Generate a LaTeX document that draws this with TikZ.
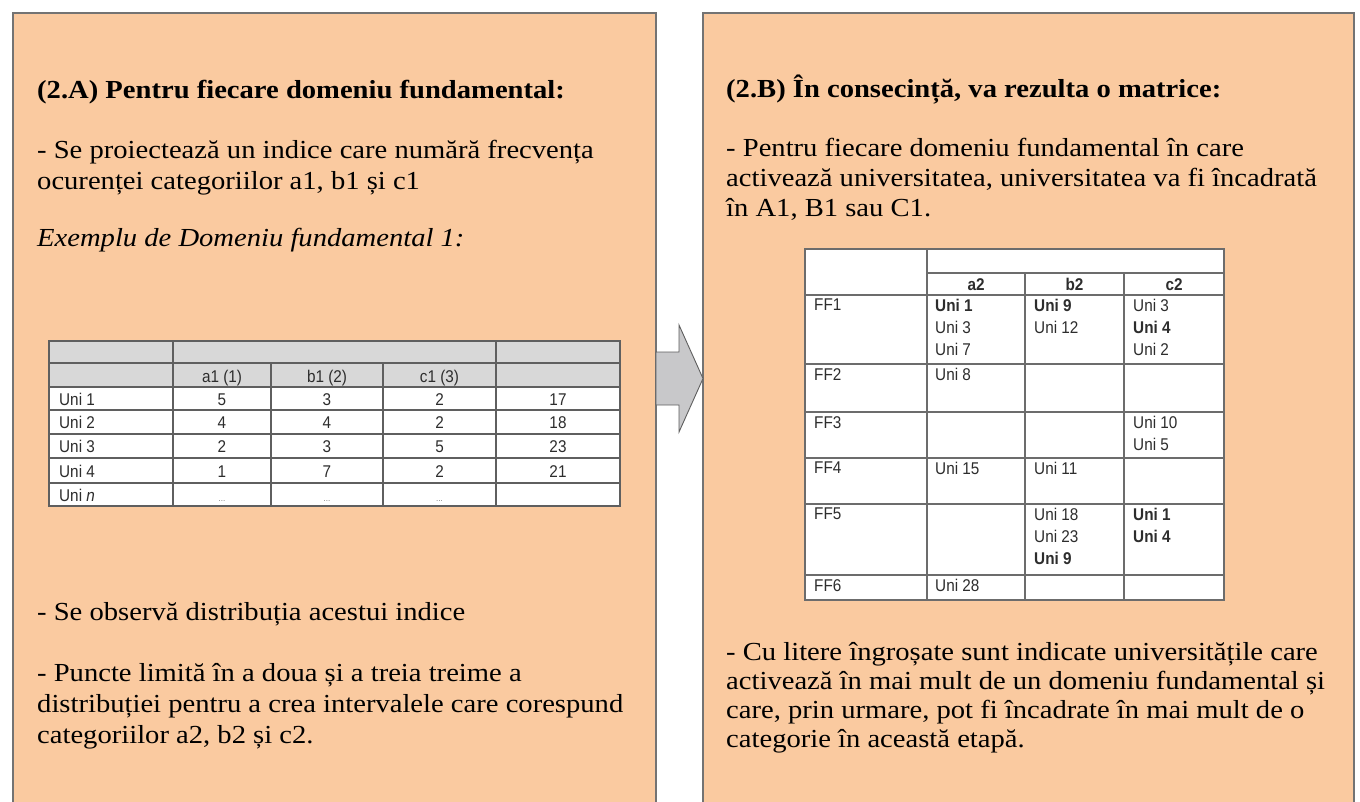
\documentclass[tikz,border=0pt]{standalone}
\usepackage{fontspec}
\setmainfont{Liberation Serif}[FakeStretch=1.10]
\newfontfamily\tabfont{Liberation Sans}[FakeStretch=0.9]
\definecolor{peach}{RGB}{250,202,160}
\definecolor{panelline}{RGB}{115,115,115}
\definecolor{gridline}{RGB}{95,95,95}
\definecolor{hdrgray}{RGB}{216,216,216}
\definecolor{arrowgray}{RGB}{200,200,202}
\definecolor{tabtext}{RGB}{45,45,45}
\begin{document}
\begin{tikzpicture}[x=1pt,y=-1pt,
  txt/.style={anchor=base west, inner sep=0, font=\fontsize{26}{30}\selectfont},
  ttl/.style={anchor=base west, inner sep=0, font=\fontsize{26}{30}\selectfont\bfseries},
  itl/.style={anchor=base west, inner sep=0, font=\fontsize{26}{30}\selectfont\itshape},
  panel/.style={fill=peach, draw=panelline, line width=1.4pt},
  grid/.style={draw=gridline, line width=1.1pt},
  cellc/.style={anchor=base, inner sep=0, text=tabtext, font=\tabfont\fontsize{17}{19}\selectfont},
  celll/.style={anchor=base west, inner sep=0, text=tabtext, font=\tabfont\fontsize{17}{19}\selectfont},
  unil/.style={anchor=north west, inner sep=0, align=left, text=tabtext, font=\tabfont\fontsize{17}{22}\selectfont},
  hdr/.style={anchor=base, inner sep=0, text=tabtext, font=\tabfont\bfseries\fontsize{17}{19}\selectfont},
  dots/.style={anchor=base, inner sep=0, text=gray, font=\tabfont\fontsize{9}{10}\selectfont}
]
\useasboundingbox (0,0) rectangle (1360,801);
\fill[white] (0,0) rectangle (1360,801);
\begin{scope}
\clip (0,0) rectangle (1360,801);
\draw[panel] (13,13) rectangle (656,830);
\draw[panel] (703,13) rectangle (1354,830);
\end{scope}

% arrow between the panels
\draw[fill=arrowgray, draw=gridline, line width=0.9pt]
  (656,352) -- (679,352) -- (679,325) -- (703,378.5) -- (679,432) -- (679,405) -- (656,405) -- cycle;

% ---------- left panel text ----------
\node[ttl] (lt) at (37,98) {(2.A) Pentru fiecare domeniu fundamental:};
\node[txt] (l1) at (37,158) {- Se proiectează un indice care numără frecvența};
\node[txt] (l2) at (37,189) {ocurenței categoriilor a1, b1 și c1};
\node[itl] (l3) at (37,246) {Exemplu de Domeniu fundamental 1:};
\node[txt] (l4) at (37,620) {- Se observă distribuția acestui indice};
\node[txt] (l5) at (37,681) {- Puncte limită în a doua și a treia treime a};
\node[txt] (l6) at (37,712) {distribuției pentru a crea intervalele care corespund};
\node[txt] (l7) at (37,743) {categoriilor a2, b2 și c2.};

% ---------- left table ----------
\fill[hdrgray] (49,341) rectangle (620,387);
\fill[white] (49,387) rectangle (620,506);
\draw[grid] (49,341) rectangle (620,506);
\foreach \yy in {363,387,410,434,458,483} \draw[grid] (49,\yy) -- (620,\yy);
\draw[grid] (173,341) -- (173,506);
\draw[grid] (496,341) -- (496,506);
\draw[grid] (271,363) -- (271,506);
\draw[grid] (383,363) -- (383,506);
\node[cellc] (ha) at (222,382) {a1 (1)};
\node[cellc] (hb) at (327,382) {b1 (2)};
\node[cellc] (hc) at (439.5,382) {c1 (3)};
\node[celll] (u1) at (59,405) {Uni 1};
\node[celll] (u2) at (59,428.5) {Uni 2};
\node[celll] (u3) at (59,452.5) {Uni 3};
\node[celll] (u4) at (59,477) {Uni 4};
\node[celll] (un) at (59,501) {Uni \textit{n}};
\node[cellc] (a11) at (222,405) {5};
\node[cellc] (b11) at (327,405) {3};
\node[cellc] (c11) at (439.5,405) {2};
\node[cellc] (s1) at (558,405) {17};
\node[cellc] (a12) at (222,428.5) {4};
\node[cellc] (b12) at (327,428.5) {4};
\node[cellc] (c12) at (439.5,428.5) {2};
\node[cellc] (s2) at (558,428.5) {18};
\node[cellc] (a13) at (222,452.5) {2};
\node[cellc] (b13) at (327,452.5) {3};
\node[cellc] (c13) at (439.5,452.5) {5};
\node[cellc] (s3) at (558,452.5) {23};
\node[cellc] (a14) at (222,477) {1};
\node[cellc] (b14) at (327,477) {7};
\node[cellc] (c14) at (439.5,477) {2};
\node[cellc] (s4) at (558,477) {21};
\node[dots] (d1) at (222,501) {...};
\node[dots] (d2) at (327,501) {...};
\node[dots] (d3) at (439.5,501) {...};

% ---------- right panel text ----------
\node[ttl] (rt) at (726,97) {(2.B) În consecință, va rezulta o matrice:};
\node[txt] (r1) at (726,156) {- Pentru fiecare domeniu fundamental în care};
\node[txt] (r2) at (726,186) {activează universitatea, universitatea va fi încadrată};
\node[txt] (r3) at (726,216) {în A1, B1 sau C1.};
\node[txt] (r4) at (726,660) {- Cu litere îngroșate sunt indicate universitățile care};
\node[txt] (r5) at (726,689) {activează în mai mult de un domeniu fundamental și};
\node[txt] (r6) at (726,718) {care, prin urmare, pot fi încadrate în mai mult de o};
\node[txt] (r7) at (726,747) {categorie în această etapă.};

% ---------- right table ----------
\fill[white] (805,249) rectangle (1224,600);
\begin{scope}[draw=gray!85!black, line width=1.1pt]
\draw (805,249) rectangle (1224,600);
\draw (927,249) -- (927,600);
\draw (927,273) -- (1224,273);
\draw (1025,273) -- (1025,600);
\draw (1124,273) -- (1124,600);
\foreach \yy in {295,364,412,458,504,575} \draw (805,\yy) -- (1224,\yy);
\end{scope}
\node[hdr] (ha2) at (976,290) {a2};
\node[hdr] (hb2) at (1074.5,290) {b2};
\node[hdr] (hc2) at (1174,290) {c2};
\node[unil] (f1) at (814,299) {FF1};
\node[unil] (f2) at (814,368) {FF2};
\node[unil] (f3) at (814,416) {FF3};
\node[unil] (f4) at (814,462) {FF4};
\node[unil] (f5) at (814,508) {FF5};
\node[unil] (f6) at (814,579) {FF6};
\node[unil] (e1a) at (935,299) {\textbf{Uni 1}\\Uni 3\\Uni 7};
\node[unil] (e1b) at (1034,299) {\textbf{Uni 9}\\Uni 12};
\node[unil] (e1c) at (1133,299) {Uni 3\\\textbf{Uni 4}\\Uni 2};
\node[unil] (e2a) at (935,368) {Uni 8};
\node[unil] (e3c) at (1133,416) {Uni 10\\Uni 5};
\node[unil] (e4a) at (935,462) {Uni 15};
\node[unil] (e4b) at (1034,462) {Uni 11};
\node[unil] (e5b) at (1034,508) {Uni 18\\Uni 23\\\textbf{Uni 9}};
\node[unil] (e5c) at (1133,508) {\textbf{Uni 1}\\\textbf{Uni 4}};
\node[unil] (e6a) at (935,579) {Uni 28};
\end{tikzpicture}
\end{document}
